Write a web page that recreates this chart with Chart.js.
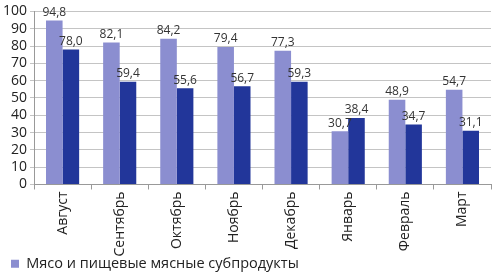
<!DOCTYPE html>
<html>
<head>
<meta charset="utf-8">
<script src="https://cdn.jsdelivr.net/npm/chart.js@4/dist/chart.umd.min.js"></script>
<style>
  body { margin: 0; background: #fff; }
  canvas { display: block; }
</style>
</head>
<body>
<canvas id="chart" width="493" height="272"></canvas>
<script>
var months = ["Август", "Сентябрь", "Октябрь", "Ноябрь", "Декабрь", "Январь", "Февраль", "Март"];
var meat = [94.8, 82.1, 84.2, 79.4, 77.3, 30.7, 48.9, 54.7];
var second = [78.0, 59.4, 55.6, 56.7, 59.3, 38.4, 34.7, 31.1];
var yTicks = [0, 10, 20, 30, 40, 50, 60, 70, 80, 90, 100];

var FONT = "'Open Sans', 'DejaVu Sans', sans-serif";

// values above bars, comma decimal
var barLabels = {
    id: 'barLabels',
    afterDatasetsDraw: function(chart) {
        var ctx = chart.ctx;
        ctx.save();
        ctx.font = "12px " + FONT;
        ctx.fillStyle = "#333";
        ctx.textAlign = "center";
        ctx.textBaseline = "bottom";
        chart.data.datasets.forEach(function(ds, i) {
            chart.getDatasetMeta(i).data.forEach(function(bar, j) {
                ctx.fillText(ds.data[j].toFixed(1).replace('.', ','), bar.x, bar.y - 2);
            });
        });
        ctx.restore();
    }
};

// legend takes less room than chart.js gives it; nudge it right
var legendShift = {
    id: 'legendShift',
    beforeLayout: function(chart) {
        var lg = chart.legend;
        if (lg && !lg._patched) {
            var fit = lg.fit;
            lg.fit = function() {
                fit.call(this);
                this.height -= 13;
            };
            lg._patched = true;
        }
    },
    afterLayout: function(chart) {
        chart.legend.left += 9;
        chart.legend.top -= 4;
    }
};

var ctx = document.getElementById("chart").getContext("2d");
new Chart(ctx, {
    type: 'bar',
    data: {
        labels: months,
        datasets: [
            {
                label: 'Мясо и пищевые мясные субпродукты',
                data: meat,
                backgroundColor: '#8b8ed0',
                barPercentage: 1,
                categoryPercentage: 0.58
            },
            {
                label: 'Рыба и ракообразные',
                data: second,
                backgroundColor: '#22369a',
                barPercentage: 1,
                categoryPercentage: 0.58
            }
        ]
    },
    options: {
        responsive: false,
        animation: false,
        layout: { padding: { top: -4, right: 2, left: 0, bottom: 0 } },
        plugins: {
            tooltip: { enabled: false },
            legend: {
                position: 'bottom',
                align: 'start',
                labels: {
                    boxWidth: 8,
                    boxHeight: 8,
                    padding: 2,
                    color: '#222',
                    font: { family: FONT, size: 14.5 },
                    filter: function(item) { return item.datasetIndex === 0; }
                }
            }
        },
        scales: {
            x: {
                grid: { offset: true, drawOnChartArea: false, tickLength: 5, color: '#999' },
                border: { color: '#999' },
                ticks: {
                    minRotation: 90,
                    maxRotation: 90,
                    color: '#222',
                    padding: 2,
                    font: { family: FONT, size: 14 }
                }
            },
            y: {
                min: 0,
                max: 100,
                afterBuildTicks: function(axis) {
                    axis.ticks = yTicks.map(function(v) { return { value: v }; });
                },
                grid: { color: '#c4c4c4', tickLength: 4 },
                border: { color: '#999' },
                ticks: {
                    autoSkip: false,
                    color: '#222',
                    padding: 3,
                    font: { family: FONT, size: 14 }
                }
            }
        }
    },
    plugins: [barLabels, legendShift]
});
</script>
</body>
</html>
